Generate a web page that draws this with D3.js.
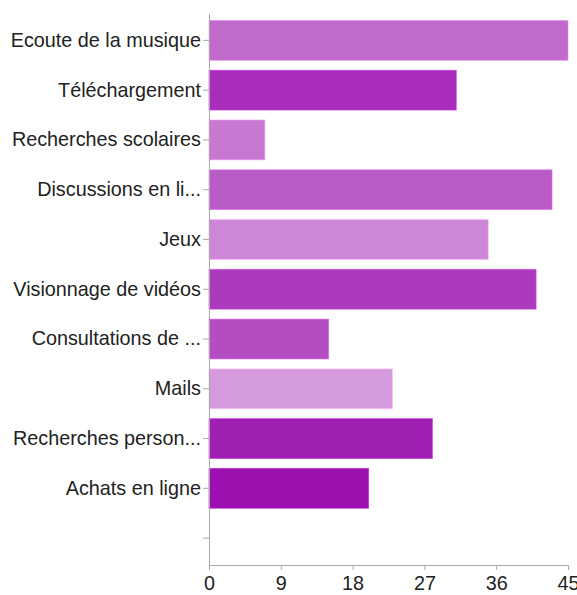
<!DOCTYPE html>
<html>
<head>
<meta charset="utf-8">
<script src="https://cdn.jsdelivr.net/npm/d3@7"></script>
<style>
  html, body { margin: 0; padding: 0; background: #fff; }
  svg { display: block; }
  text { font-family: "Liberation Sans", Arial, Helvetica, sans-serif; }
</style>
</head>
<body>
<svg id="chart" width="577" height="595"></svg>
<script>
const categories = [
  "Ecoute de la musique",
  "Téléchargement",
  "Recherches scolaires",
  "Discussions en li...",
  "Jeux",
  "Visionnage de vidéos",
  "Consultations de ...",
  "Mails",
  "Recherches person...",
  "Achats en ligne"
];
const values = [45, 31, 7, 43, 35, 41, 15, 23, 28, 20];
const colors = ["#c06bcb", "#a82dbb", "#c779d2", "#b85bc6", "#cc88d6", "#ab3abd", "#b44dc2", "#d59ade", "#a01fb3", "#9c10b0"];
const xTicks = [0, 9, 18, 27, 36, 45];

const svg = d3.select("#chart");
const mLeft = 209, mRight = 568, mTop = 14, mBottom = 565;
const fontSize = 19.8;

const x = d3.scaleLinear().domain([0, 45]).range([mLeft, mRight]);
const slots = categories.concat([""]);
const y = d3.scaleBand().domain(slots).range([15.5, 563]).paddingInner(0.2).paddingOuter(0.1);

// bars
svg.append("g").selectAll("rect")
  .data(categories)
  .join("rect")
  .attr("x", x(0))
  .attr("y", d => y(d))
  .attr("width", (d, i) => x(values[i]) - x(0))
  .attr("height", y.bandwidth())
  .attr("fill", (d, i) => colors[i])
  .attr("stroke", (d, i) => d3.color(colors[i]).brighter(0.6))
  .attr("stroke-opacity", 0.6)
  .attr("stroke-width", 1);

// y axis
const yAxis = svg.append("g")
  .attr("transform", `translate(${mLeft},0)`)
  .call(d3.axisLeft(y).tickSize(6).tickPadding(2));
yAxis.select(".domain").remove();
yAxis.selectAll(".tick line").attr("stroke", "#aaa");
yAxis.selectAll(".tick text")
  .attr("fill", "#222")
  .style("font-size", fontSize + "px")
  .attr("font-family", null);

// x axis
const xAxis = svg.append("g")
  .attr("transform", `translate(0,${mBottom})`)
  .call(d3.axisBottom(x).tickValues(xTicks).tickSize(5).tickPadding(6));
xAxis.select(".domain").remove();
xAxis.selectAll(".tick line").attr("stroke", "#aaa");
xAxis.selectAll(".tick text")
  .attr("fill", "#222")
  .style("font-size", fontSize + "px")
  .attr("font-family", null);

// axis lines
svg.append("line").attr("x1", mLeft + 0.5).attr("x2", mLeft + 0.5).attr("y1", mTop).attr("y2", mBottom)
  .attr("stroke", "#aaa").attr("stroke-width", 1);
svg.append("line").attr("x1", mLeft).attr("x2", mRight).attr("y1", mBottom + 0.5).attr("y2", mBottom + 0.5)
  .attr("stroke", "#aaa").attr("stroke-width", 1);
</script>
</body>
</html>
